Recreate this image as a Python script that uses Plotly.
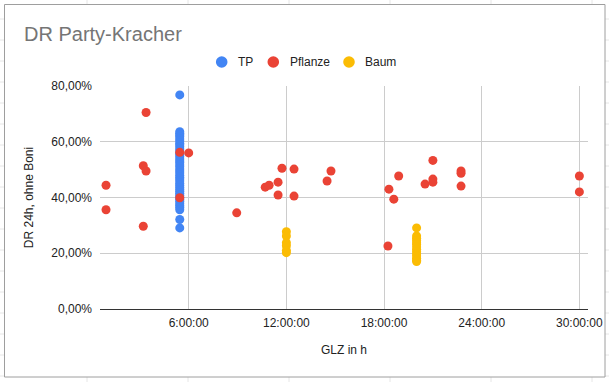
import plotly.graph_objects as go

# ---------------- data ----------------
tp_hours = [5.45] * 43
tp_dr = [76.8, 63.6, 63.0, 62.4, 61.8, 61.0, 60.3, 59.5, 58.9, 58.2, 57.4, 56.7,
         55.9, 55.3, 54.6, 53.8, 53.1, 52.5, 51.7, 51.0, 50.2, 49.5, 48.8, 48.0,
         47.3, 46.6, 45.9, 45.1, 44.4, 43.6, 42.9, 42.2, 41.5, 40.8, 40.0, 39.3,
         38.6, 37.8, 37.1, 36.4, 35.6, 32.1, 29.1]

pflanze_hours = [0.92, 0.92, 3.38, 3.21, 3.38, 3.21, 5.45, 6.0, 5.45, 8.95,
                 10.7, 10.94, 11.49, 11.73, 11.49, 12.47, 12.47, 14.5, 14.74,
                 18.24, 18.3, 18.6, 18.9, 20.52, 21.0, 21.0, 21.0, 22.73, 22.73,
                 22.73, 30.0, 30.0]
pflanze_dr = [44.4, 35.6, 70.5, 51.4, 49.5, 29.7, 56.2, 56.0, 39.9, 34.5,
              43.7, 44.4, 45.5, 50.5, 40.9, 50.2, 40.5, 45.9, 49.5,
              22.6, 43.0, 39.4, 47.7, 44.8, 53.3, 46.6, 45.5, 49.5, 48.7,
              44.1, 47.7, 42.0]

baum_hours = [12.0] * 6 + [20.0] * 14
baum_dr = [27.7, 26.2, 23.8, 22.7, 21.0, 20.2,
           29.1, 26.2, 25.4, 24.6, 23.8, 23.1, 22.2, 21.4, 20.6, 19.8, 19.0,
           18.2, 17.5, 17.0]

series_names = ["TP", "Pflanze", "Baum"]
series_colors = ["#4285F4", "#EA4335", "#FBBC04"]

x_tickvals = [6, 12, 18, 24, 30]
x_ticktext = ["6:00:00", "12:00:00", "18:00:00", "24:00:00", "30:00:00"]
y_tickvals = [0, 20, 40, 60, 80]
y_ticktext = ["0,00%", "20,00%", "40,00%", "60,00%", "80,00%"]

# ---------------- figure ----------------
W, H = 609, 382
L, R, T, B = 100, 21, 86, 73
pw, ph = W - L - R, H - T - B

def px_x(p):
    return (p - L) / pw

def px_y(p):
    return (H - B - p) / ph

FONT = "Liberation Sans, Arial, sans-serif"

fig = go.Figure()
for name, xs, ys, col in zip(series_names,
                             [tp_hours, pflanze_hours, baum_hours],
                             [tp_dr, pflanze_dr, baum_dr],
                             series_colors):
    fig.add_trace(go.Scatter(
        x=xs, y=ys, mode="markers", name=name, showlegend=False,
        marker=dict(color=col, size=9, line=dict(width=0)),
    ))

shapes = []
annotations = []
# faint spreadsheet grid behind the chart box
for xv in [87, 188, 289, 390, 491, 592]:
    shapes.append(dict(type="line", xref="paper", yref="paper",
                       x0=px_x(xv), x1=px_x(xv), y0=px_y(H), y1=px_y(0),
                       line=dict(color="#e6e6e6", width=1), layer="below"))
for yv in range(19, H, 21):
    shapes.append(dict(type="line", xref="paper", yref="paper",
                       x0=px_x(0), x1=px_x(W), y0=px_y(yv), y1=px_y(yv),
                       line=dict(color="#e6e6e6", width=1), layer="below"))
# chart box
shapes.append(dict(type="rect", xref="paper", yref="paper",
                   x0=px_x(4.5), x1=px_x(605), y0=px_y(377), y1=px_y(4.5),
                   fillcolor="white", line=dict(color="#9e9e9e", width=1),
                   layer="below"))

# legend (drawn manually for exact Google-Sheets spacing)
leg_marker_x = [221.7, 273.3, 349.0]
leg_y = 62
r = 5.8
for name, col, mx in zip(series_names, series_colors, leg_marker_x):
    shapes.append(dict(type="circle", xref="paper", yref="paper",
                       x0=px_x(mx - r), x1=px_x(mx + r),
                       y0=px_y(leg_y + r), y1=px_y(leg_y - r),
                       fillcolor=col, line=dict(width=0)))
    annotations.append(dict(text=name, xref="paper", yref="paper",
                            x=px_x(mx + 14.3), y=px_y(leg_y),
                            xanchor="left", yanchor="middle", showarrow=False,
                            font=dict(family=FONT, size=12, color="#222222")))

fig.update_layout(
    width=W, height=H,
    margin=dict(l=L, r=R, t=T, b=B, pad=0, autoexpand=False),
    paper_bgcolor="white",
    plot_bgcolor="rgba(0,0,0,0)",
    font=dict(family=FONT, size=12, color="#222222"),
    title=dict(text="DR Party-Kracher", xref="container", yref="container",
               x=24 / W, xanchor="left", y=1 - 33.5 / H, yanchor="middle",
               font=dict(family=FONT, size=20, color="#757575")),
    showlegend=False,
    xaxis=dict(range=[0.55, 30.53], tickvals=x_tickvals, ticktext=x_ticktext,
               showgrid=True, gridcolor="#cccccc", gridwidth=1,
               zeroline=False, showline=True, linecolor="#333333", linewidth=1,
               ticks="", ticklabelstandoff=3, automargin=False,
               tickfont=dict(family=FONT, size=12, color="#222222"),
               title=dict(text="GLZ in h", standoff=16,
                          font=dict(family=FONT, size=12, color="#222222"))),
    yaxis=dict(range=[0, 80], tickvals=y_tickvals, ticktext=y_ticktext,
               showgrid=True, gridcolor="#cccccc", gridwidth=1,
               zeroline=False, showline=False, ticks="", ticklabelstandoff=7,
               automargin=False,
               tickfont=dict(family=FONT, size=12, color="#222222"),
               title=dict(text="DR 24h, ohne Boni", standoff=15,
                          font=dict(family=FONT, size=12, color="#222222"))),
    shapes=shapes,
    annotations=annotations,
)

fig.write_html("out.html",
               config={"displayModeBar": False},
               post_script="document.body.style.margin='0px';document.body.style.overflow='hidden';")
